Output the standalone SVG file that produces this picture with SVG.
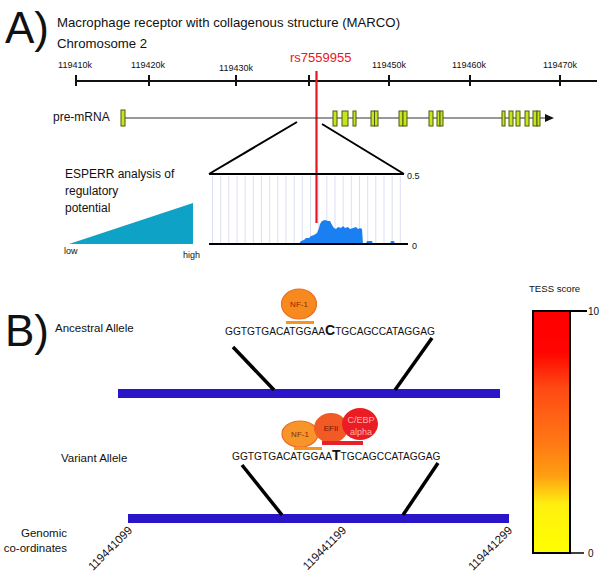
<svg xmlns="http://www.w3.org/2000/svg" width="600" height="574" viewBox="0 0 600 574">
<style>
text{font-family:"Liberation Sans",Arial,sans-serif;fill:#111}
.big{font-size:44px}
.t13{font-size:13.2px}
.ax{font-size:9px}
.tick{stroke:#111;stroke-width:2}
.exon{fill:#c8e41e;stroke:#4d5a12;stroke-width:1}
.grid{stroke:#dcdff4;stroke-width:1}
.blk{stroke:#000;stroke-width:2;fill:none}
.conn{stroke:#000;stroke-width:3.5;stroke-linecap:butt}
.lab{font-size:11.5px}
.seq{font-size:10.2px}
.bar{fill:#2a16c8}
.rot{font-size:11.5px}
.tf{font-size:8px;text-anchor:middle}
</style>
<defs>
<linearGradient id="tess" x1="0" y1="0" x2="0" y2="1">
<stop offset="0" stop-color="#ff0000"/>
<stop offset="0.17" stop-color="#ff0500"/>
<stop offset="0.32" stop-color="#ff4a14"/>
<stop offset="0.55" stop-color="#ff7a14"/>
<stop offset="0.68" stop-color="#ff9e12"/>
<stop offset="0.8" stop-color="#fff010"/>
<stop offset="1" stop-color="#ffff00"/>
</linearGradient>
</defs>

<g id="panelA-title">
<text class="big" x="5" y="43">A)</text>
<text class="t13" x="57" y="27">Macrophage receptor with collagenous structure (MARCO)</text>
<text class="t13" x="57" y="48">Chromosome 2</text>
</g>

<g id="chrom-axis">
<line x1="75" y1="81" x2="597" y2="81" stroke="#111" stroke-width="2"/>
<line class="tick" x1="76" y1="75" x2="76" y2="86"/>
<line class="tick" x1="149" y1="75" x2="149" y2="86"/>
<line class="tick" x1="236" y1="75" x2="236" y2="86"/>
<line class="tick" x1="309" y1="75" x2="309" y2="86"/>
<line class="tick" x1="389" y1="75" x2="389" y2="86"/>
<line class="tick" x1="470" y1="75" x2="470" y2="86"/>
<line class="tick" x1="560" y1="75" x2="560" y2="86"/>
<g class="ax" text-anchor="middle">
<text x="75" y="68">119410k</text>
<text x="148" y="68">119420k</text>
<text x="236" y="71">119430k</text>
<text x="389" y="68">119450k</text>
<text x="469" y="68">119460k</text>
<text x="560" y="68">119470k</text>
</g>
</g>

<g id="snp">
<text x="290" y="62" style="font-size:13px;fill:#e8161e">rs7559955</text>
<line x1="316.5" y1="71" x2="316.5" y2="223" stroke="#e8161e" stroke-width="2.2"/>
</g>

<g id="pre-mRNA">
<text x="53" y="121" style="font-size:12px">pre-mRNA</text>
<line x1="125" y1="118" x2="547" y2="118" stroke="#333" stroke-width="1"/>
<polygon points="545,114 554,118 545,122" fill="#111"/>
<rect class="exon" x="121" y="110" width="4" height="16"/>
<rect class="exon" x="333" y="111" width="4" height="15"/>
<rect class="exon" x="342" y="111" width="6" height="15"/>
<rect class="exon" x="353" y="111" width="3" height="15"/>
<rect class="exon" x="371" y="111" width="3.5" height="15"/>
<rect class="exon" x="374.5" y="111" width="3.5" height="15"/>
<rect class="exon" x="399" y="111" width="4" height="15"/>
<rect class="exon" x="403" y="111" width="4" height="15"/>
<rect class="exon" x="429" y="111" width="4" height="15"/>
<rect class="exon" x="437" y="111" width="3" height="15"/>
<rect class="exon" x="440" y="111" width="3" height="15"/>
<rect class="exon" x="502" y="111" width="3" height="15"/>
<rect class="exon" x="509" y="111" width="4" height="15"/>
<rect class="exon" x="516" y="111" width="4" height="15"/>
<rect class="exon" x="525" y="111" width="4" height="15"/>
<rect class="exon" x="533" y="111" width="4" height="15"/>
<rect class="exon" x="537" y="111" width="3" height="15"/>
</g>

<g id="esperr-legend">
<text x="65" y="178" style="font-size:12px">ESPERR analysis of</text>
<text x="65" y="195" style="font-size:12px">regulatory</text>
<text x="65" y="212" style="font-size:12px">potential</text>
<polygon points="69,244 193,203 193,244" fill="#0ea2c6"/>
<text x="64" y="254" style="font-size:9px">low</text>
<text x="183" y="258" style="font-size:9px">high</text>
</g>

<g id="esperr-plot">
<g class="grid">
<line x1="212.5" y1="176" x2="212.5" y2="243"/><line x1="220.7" y1="176" x2="220.7" y2="243"/>
<line x1="228.8" y1="176" x2="228.8" y2="243"/><line x1="237" y1="176" x2="237" y2="243"/>
<line x1="245.2" y1="176" x2="245.2" y2="243"/><line x1="253.3" y1="176" x2="253.3" y2="243"/>
<line x1="261.5" y1="176" x2="261.5" y2="243"/><line x1="269.7" y1="176" x2="269.7" y2="243"/>
<line x1="277.8" y1="176" x2="277.8" y2="243"/><line x1="286" y1="176" x2="286" y2="243"/>
<line x1="294.2" y1="176" x2="294.2" y2="243"/><line x1="302.3" y1="176" x2="302.3" y2="243"/>
<line x1="310.5" y1="176" x2="310.5" y2="243"/><line x1="318.7" y1="176" x2="318.7" y2="243"/>
<line x1="326.8" y1="176" x2="326.8" y2="243"/><line x1="335" y1="176" x2="335" y2="243"/>
<line x1="343.2" y1="176" x2="343.2" y2="243"/><line x1="351.3" y1="176" x2="351.3" y2="243"/>
<line x1="359.5" y1="176" x2="359.5" y2="243"/><line x1="367.7" y1="176" x2="367.7" y2="243"/>
<line x1="375.8" y1="176" x2="375.8" y2="243"/><line x1="384" y1="176" x2="384" y2="243"/>
<line x1="392.2" y1="176" x2="392.2" y2="243"/><line x1="400.3" y1="176" x2="400.3" y2="243"/>
</g>
<path d="M299,244 L301,241 L304,240 L306,238 L309,238 L311,236 L314,235 L317,233 L319,228 L320,224 L322,221 L325,220 L328,221 L330,221 L332,225 L334,228 L336,229 L338,227 L341,228 L343,226 L345,228 L348,227 L350,229 L353,228 L356,227 L358,229 L360,228 L362,229 L363,244 Z" fill="#1a7ff0"/>
<path d="M366,244 L367,241 L372,241 L373,244 Z M390,244 L391,241 L394,241 L395,244 Z" fill="#1a7ff0"/>
<line x1="209" y1="174" x2="404" y2="174" stroke="#000" stroke-width="2"/>
<line x1="209" y1="244" x2="408" y2="244" stroke="#000" stroke-width="2"/>
<text x="407" y="179" style="font-size:9px">0.5</text>
<text x="412" y="249" style="font-size:9px">0</text>
</g>

<g id="panelB-title">
<text class="big" x="5" y="346">B)</text>
</g>

<g id="ancestral">
<text class="lab" x="55" y="332">Ancestral Allele</text>
<text class="seq" x="225" y="335">GGTGTGACATGGAA<tspan style="font-size:14px;font-weight:bold">C</tspan>TGCAGCCATAGGAG</text>
<rect class="bar" x="118" y="389" width="382" height="9"/>
</g>

<g id="ancestral-NF1">
<ellipse cx="299" cy="304" rx="17.5" ry="15" fill="#f68a1f" stroke="#ef6a1c" stroke-width="1.2"/>
<text class="tf" x="299" y="307" style="fill:#8a2a00">NF-1</text>
<rect x="286" y="321" width="28" height="3" fill="#f7941d"/>
</g>

<g id="variant">
<text class="lab" x="61" y="462">Variant Allele</text>
<text class="seq" x="232" y="460">GGTGTGACATGGAA<tspan style="font-size:14px;font-weight:bold">T</tspan>TGCAGCCATAGGAG</text>
<rect class="bar" x="128" y="514" width="381" height="9"/>
</g>

<g id="variant-TFs">
<ellipse cx="300" cy="434" rx="18" ry="13" fill="#f8952a" stroke="#ef6a1c" stroke-width="1.2"/>
<text class="tf" x="300" y="437" style="fill:#8a2a00">NF-1</text>
<ellipse cx="331" cy="428" rx="17" ry="15" fill="#f15a24"/>
<text class="tf" x="331" y="431" style="fill:#7a1400">EFII</text>
<ellipse cx="360" cy="424" rx="18" ry="16" fill="#ec1c24"/>
<text class="tf" x="361" y="423" style="font-size:9px;fill:#ffb0a8">C/EBP</text>
<text class="tf" x="361" y="435" style="font-size:9px;fill:#ffb0a8">alpha</text>
<rect x="294" y="447" width="28" height="3" fill="#f7941d"/>
<rect x="322" y="441" width="41" height="4" fill="#e8202a"/>
</g>

<g id="coords">
<text class="lab" x="67" y="537" text-anchor="end">Genomic</text>
<text class="lab" x="67" y="552" text-anchor="end">co-ordinates</text>
<text class="rot" text-anchor="end" transform="translate(133,531) rotate(-45)">119441099</text>
<text class="rot" text-anchor="end" transform="translate(347,531) rotate(-45)">119441199</text>
<text class="rot" text-anchor="end" transform="translate(513,531) rotate(-45)">119441299</text>
</g>

<g id="tess-scale">
<text x="529" y="292" style="font-size:9.6px">TESS score</text>
<rect x="533" y="311" width="37" height="242" fill="url(#tess)" stroke="#000" stroke-width="2"/>
<line x1="570" y1="311" x2="587" y2="311" stroke="#000" stroke-width="2"/>
<line x1="570" y1="553" x2="584" y2="553" stroke="#000" stroke-width="1.5"/>
<text x="588" y="315" style="font-size:10px">10</text>
<text x="588" y="557" style="font-size:10px">0</text>
</g>

<g id="connectors">
<line class="blk" x1="297" y1="122" x2="209" y2="174"/>
<line class="blk" x1="322" y1="124" x2="404" y2="174"/>
<line class="conn" x1="233" y1="347" x2="274" y2="390"/>
<line class="conn" x1="432" y1="338" x2="395" y2="390"/>
<line class="conn" x1="242" y1="465" x2="282" y2="515"/>
<line class="conn" x1="438" y1="463" x2="403" y2="515"/>
</g>
</svg>
